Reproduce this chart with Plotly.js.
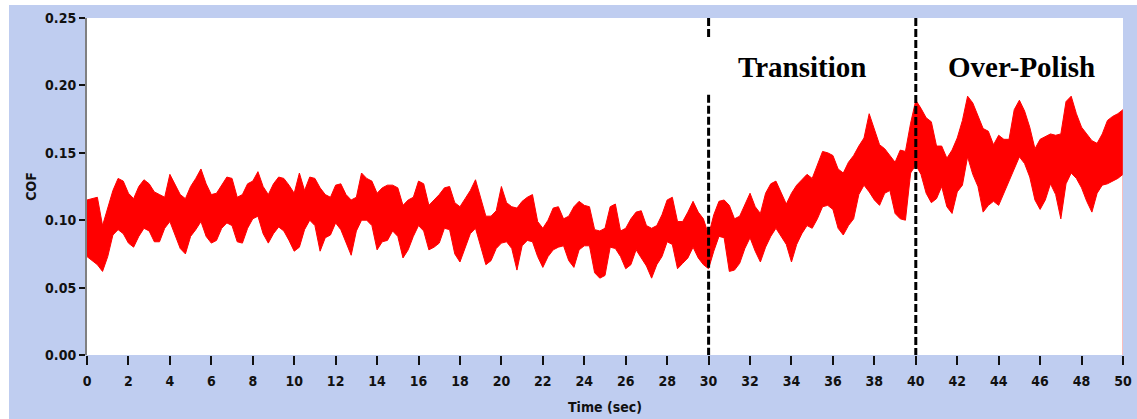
<!DOCTYPE html>
<html>
<head>
<meta charset="utf-8">
<script src="https://cdn.plot.ly/plotly-3.0.1.min.js"></script>
<style>
  html, body { margin: 0; padding: 0; background: #ffffff; }
  #wrap { position: relative; width: 1137px; height: 419px; background: #ffffff; overflow: hidden; }
  #chart { position: absolute; left: 9px; top: 5px; width: 1128px; height: 414px; }
</style>
</head>
<body>
<div id="wrap"><div id="chart"></div></div>
<script>
// ---- Data ----
const timeSec = [
  0,0.25,0.5,0.75,1,1.25,1.5,1.75,2,2.25,2.5,2.75,3,3.25,3.5,3.75,4,4.25,4.5,4.75,
  5,5.25,5.5,5.75,6,6.25,6.5,6.75,7,7.25,7.5,7.75,8,8.25,8.5,8.75,9,9.25,9.5,9.75,
  10,10.25,10.5,10.75,11,11.25,11.5,11.75,12,12.25,12.5,12.75,13,13.25,13.5,13.75,14,14.25,14.5,14.75,
  15,15.25,15.5,15.75,16,16.25,16.5,16.75,17,17.25,17.5,17.75,18,18.25,18.5,18.75,19,19.25,19.5,19.75,
  20,20.25,20.5,20.75,21,21.25,21.5,21.75,22,22.25,22.5,22.75,23,23.25,23.5,23.75,24,24.25,24.5,24.75,
  25,25.25,25.5,25.75,26,26.25,26.5,26.75,27,27.25,27.5,27.75,28,28.25,28.5,28.75,29,29.25,29.5,29.75,
  30,30.25,30.5,30.75,31,31.25,31.5,31.75,32,32.25,32.5,32.75,33,33.25,33.5,33.75,34,34.25,34.5,34.75,
  35,35.25,35.5,35.75,36,36.25,36.5,36.75,37,37.25,37.5,37.75,38,38.25,38.5,38.75,39,39.25,39.5,39.75,
  40,40.25,40.5,40.75,41,41.25,41.5,41.75,42,42.25,42.5,42.75,43,43.25,43.5,43.75,44,44.25,44.5,44.75,
  45,45.25,45.5,45.75,46,46.25,46.5,46.75,47,47.25,47.5,47.75,48,48.25,48.5,48.75,49,49.25,49.5,49.75,
  50
];
// upper envelope of the COF signal
const cofHigh = [
  0.115,0.116,0.117,0.096,0.109,0.122,0.131,0.129,0.120,0.116,0.125,0.130,0.127,0.121,0.119,0.117,0.134,0.127,0.119,0.116,
  0.125,0.131,0.138,0.127,0.119,0.120,0.126,0.132,0.131,0.117,0.119,0.127,0.129,0.136,0.125,0.119,0.127,0.132,0.131,0.126,
  0.120,0.135,0.122,0.132,0.131,0.124,0.119,0.117,0.126,0.127,
  0.119,0.115,0.117,0.135,0.131,0.129,0.120,0.124,0.126,0.126,0.124,0.111,0.115,0.117,0.129,0.127,0.111,0.115,0.119,0.124,
  0.125,0.113,0.110,0.116,0.122,0.130,0.117,0.103,0.103,0.107,0.125,0.113,0.110,0.109,0.114,0.117,0.119,0.099,0.094,0.100,
  0.109,0.110,0.101,0.103,0.110,0.114,0.111,0.110,0.093,0.092,0.094,
  0.110,0.112,0.092,0.094,0.101,0.106,0.107,0.096,0.094,0.096,0.104,0.115,0.117,0.099,0.099,0.106,0.114,0.106,0.101,0.089,
  0.104,0.114,0.115,0.111,0.101,0.103,0.111,0.120,0.110,0.105,0.120,0.127,0.129,0.120,0.112,0.120,0.126,0.130,0.134,0.131,
  0.141,0.151,0.150,0.148,0.138,0.135,0.143,0.148,0.155,0.161,
  0.179,0.168,0.156,0.153,0.148,0.143,0.152,0.151,0.172,
  0.189,0.183,0.176,0.173,0.155,0.155,0.146,0.152,0.161,0.174,0.192,0.187,0.177,0.168,0.166,0.156,0.163,0.160,0.160,0.182,
  0.189,0.181,0.169,0.153,0.160,0.162,0.164,0.163,0.164,0.188,0.192,0.179,0.169,0.164,0.159,0.157,0.164,0.174,0.177,0.179,
  0.182
];
// lower envelope of the COF signal
const cofLow = [
  0.073,0.070,0.067,0.062,0.073,0.089,0.093,0.090,0.083,0.080,0.088,0.094,0.092,0.084,0.084,0.094,0.099,0.089,0.079,0.075,
  0.088,0.093,0.099,0.088,0.083,0.085,0.094,0.098,0.096,0.084,0.083,0.094,0.101,0.103,0.090,0.083,0.090,0.095,0.092,0.085,
  0.077,0.080,0.093,0.100,0.096,0.077,0.087,0.089,0.098,0.093,
  0.083,0.074,0.092,0.100,0.100,0.096,0.078,0.084,0.085,0.092,0.088,0.072,0.078,0.088,0.096,0.092,0.078,0.080,0.083,0.094,
  0.093,0.075,0.069,0.080,0.090,0.094,0.080,0.067,0.070,0.079,0.083,0.084,0.079,0.063,0.081,0.085,0.084,0.073,0.065,0.073,
  0.078,0.080,0.081,0.070,0.065,0.078,0.081,0.081,0.061,0.057,0.059,
  0.080,0.079,0.073,0.064,0.067,0.078,0.072,0.066,0.057,0.067,0.073,0.084,0.082,0.064,0.068,0.072,0.080,0.072,0.067,0.064,
  0.077,0.088,0.087,0.062,0.063,0.068,0.079,0.087,0.077,0.069,0.080,0.088,0.094,0.088,0.082,0.069,0.082,0.090,0.096,0.094,
  0.101,0.110,0.111,0.108,0.094,0.089,0.096,0.101,0.119,0.126,
  0.121,0.115,0.111,0.120,0.122,0.105,0.101,0.100,0.135,
  0.141,0.134,0.120,0.113,0.116,0.125,0.110,0.105,0.121,0.126,0.147,0.134,0.125,0.106,0.111,0.114,0.111,0.120,0.129,0.137,
  0.147,0.142,0.132,0.115,0.108,0.115,0.127,0.119,0.101,0.127,0.135,0.131,0.124,0.114,0.106,0.120,0.126,0.127,0.129,0.131,
  0.134
];
const phaseBoundaries = [30, 40];
const phaseLabels = ["Transition", "Over-Polish"];
const phaseLabelX = [34.5, 45.1];
const phaseLabelY = 0.2135;
const yTickVals = [0, 0.05, 0.10, 0.15, 0.20, 0.25];
const xTickVals = [0,2,4,6,8,10,12,14,16,18,20,22,24,26,28,30,32,34,36,38,40,42,44,46,48,50];

// ---- Styles ----
const RED = '#ff0000';
const BG = '#bfcdf0';
const tickFont = {family: 'DejaVu Sans Condensed, DejaVu Sans, sans-serif', size: 14, color: '#111111', weight: 'bold'};

const traces = [
  {x: timeSec, y: cofLow, type: 'scatter', mode: 'lines',
   line: {color: RED, width: 1}, hoverinfo: 'skip', showlegend: false},
  {x: timeSec, y: cofHigh, type: 'scatter', mode: 'lines', fill: 'tonexty',
   fillcolor: RED, line: {color: RED, width: 1}, hoverinfo: 'skip', showlegend: false}
];

const dashStyle = {color: '#000000', width: 3, dash: '8px,3px'};
const shapes = [
  // boundary at 30 s, interrupted where the label sits
  {type: 'line', xref: 'x', yref: 'y', x0: phaseBoundaries[0], x1: phaseBoundaries[0], y0: 0.25, y1: 0.234, line: dashStyle, layer: 'above'},
  {type: 'line', xref: 'x', yref: 'y', x0: phaseBoundaries[0], x1: phaseBoundaries[0], y0: 0.193, y1: 0, line: dashStyle, layer: 'above'},
  {type: 'line', xref: 'x', yref: 'y', x0: phaseBoundaries[1], x1: phaseBoundaries[1], y0: 0.25, y1: 0, line: dashStyle, layer: 'above'},
  // faint right-edge trace line
  {type: 'line', xref: 'x', yref: 'y', x0: 50, x1: 50, y0: 0, y1: cofHigh[cofHigh.length - 1], line: {color: 'rgba(240,90,90,0.8)', width: 1}, layer: 'above'}
];

const annotations = phaseLabels.map((t, i) => ({
  text: t, x: phaseLabelX[i], y: phaseLabelY, xref: 'x', yref: 'y',
  showarrow: false, xanchor: 'center', yanchor: 'middle',
  font: {family: 'Liberation Serif, Times New Roman, serif', size: 29, color: '#000000', weight: 'bold'}
}));

const layout = {
  width: 1128, height: 414,
  margin: {l: 78, r: 14, t: 13, b: 64, pad: 0},
  paper_bgcolor: BG, plot_bgcolor: '#ffffff',
  showlegend: false, hovermode: false,
  xaxis: {
    range: [0, 50], tickvals: xTickVals, ticktext: xTickVals.map(String),
    ticks: 'outside', ticklen: 9, tickwidth: 2, tickcolor: '#111111',
    showgrid: false, zeroline: false, showline: false,
    tickfont: tickFont, ticklabelstandoff: 4,
    title: {text: 'Time (sec)', font: tickFont, standoff: 14}
  },
  yaxis: {
    range: [0, 0.25], tickvals: yTickVals, ticktext: yTickVals.map(v => v.toFixed(2)),
    ticks: 'outside', ticklen: 6, tickwidth: 2, tickcolor: '#111111',
    showgrid: false, zeroline: false, showline: true, linecolor: '#808080', linewidth: 2,
    tickfont: tickFont,
    title: {text: 'COF', font: tickFont, standoff: 5}
  },
  shapes: shapes,
  annotations: annotations
};

Plotly.newPlot('chart', traces, layout, {staticPlot: true, displayModeBar: false});
</script>
</body>
</html>
